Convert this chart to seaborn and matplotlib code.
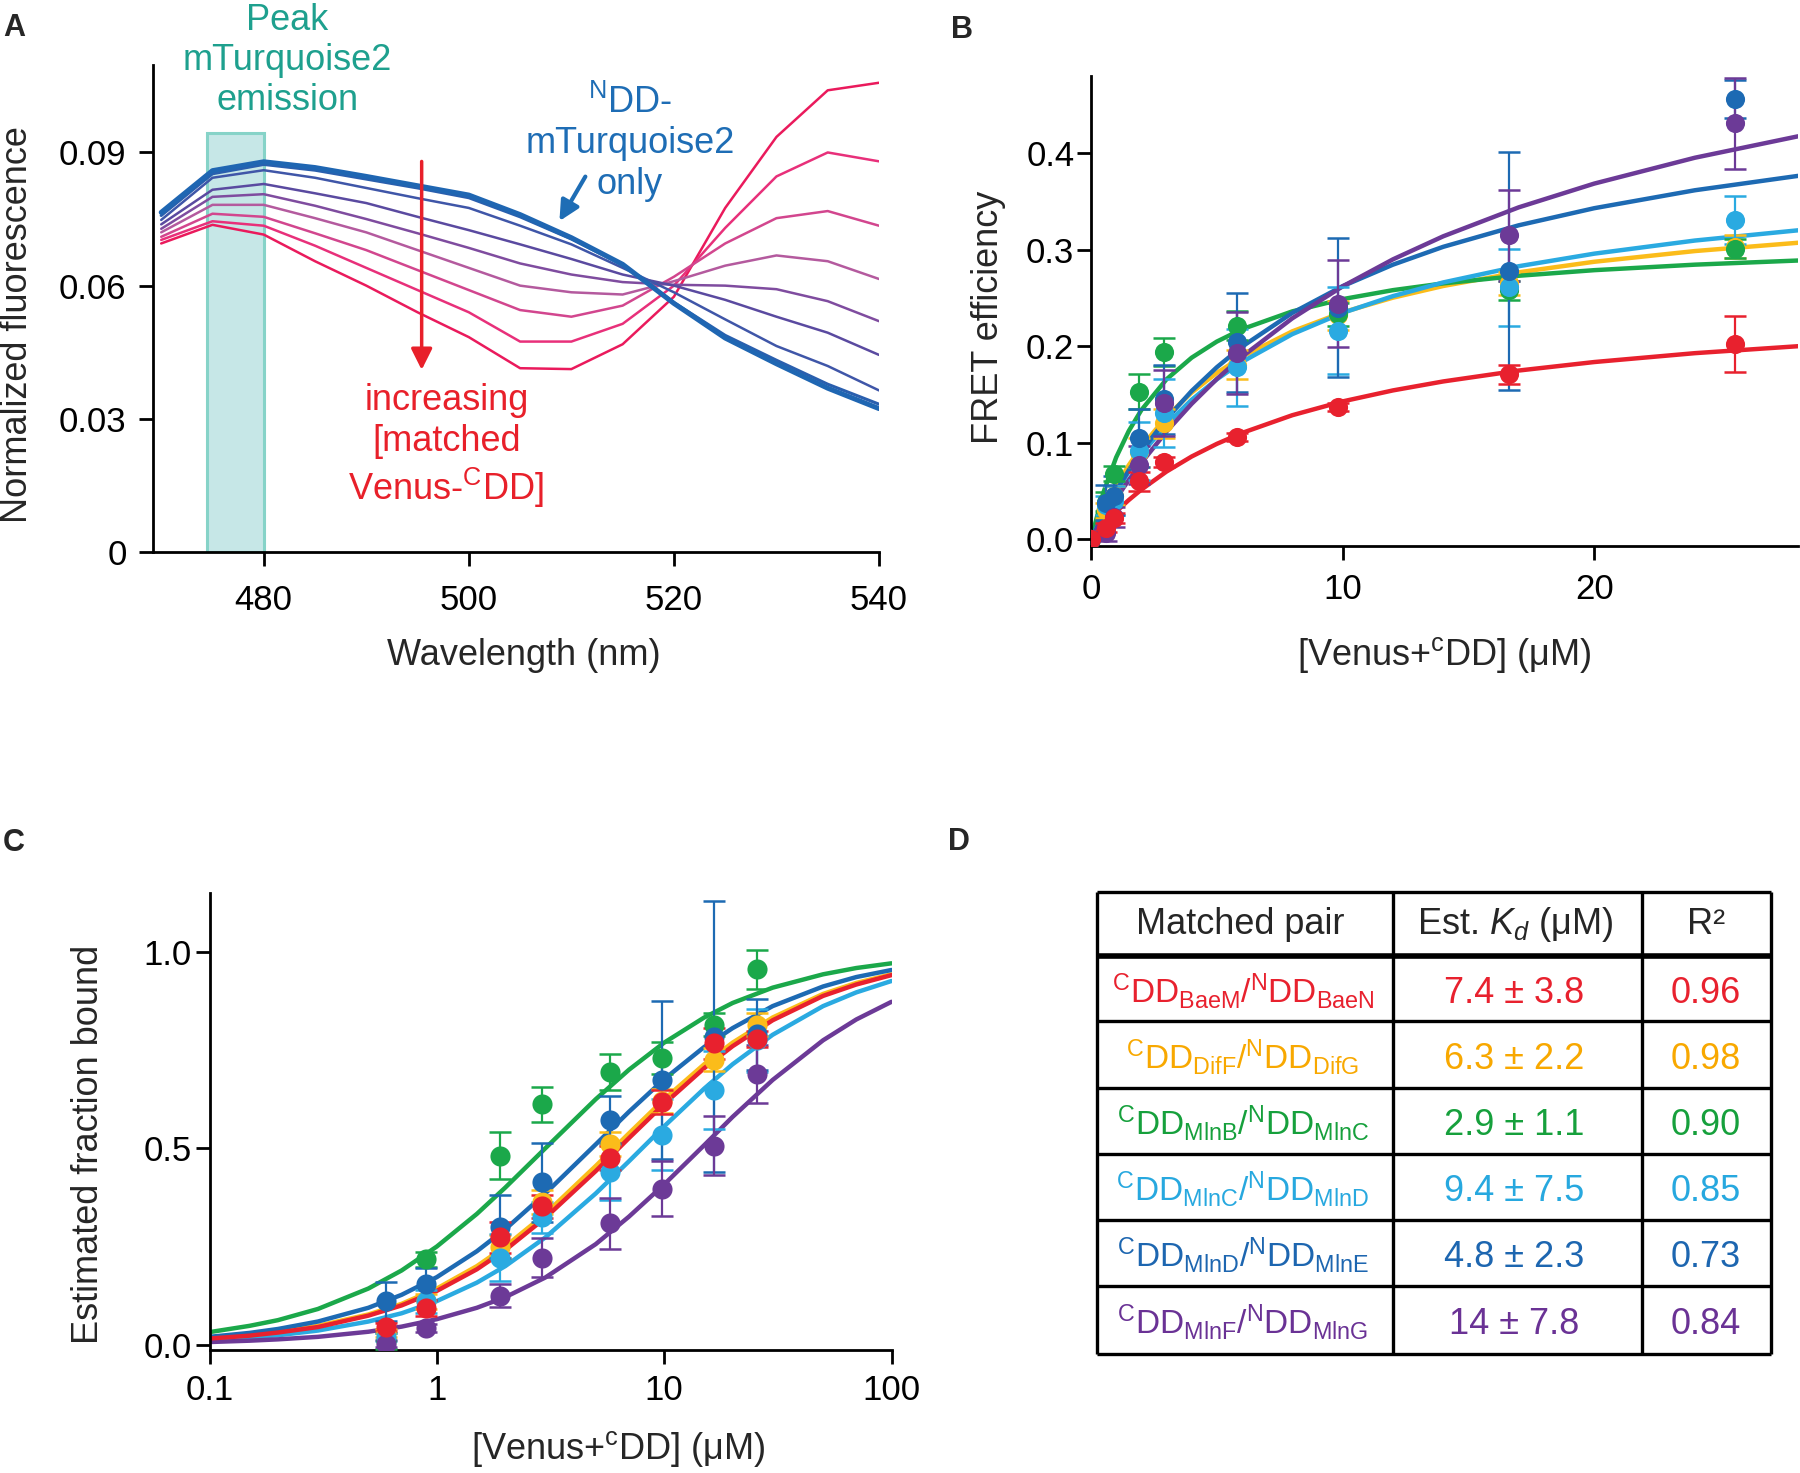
import matplotlib
matplotlib.use("Agg")
import matplotlib.pyplot as plt
from matplotlib.ticker import NullLocator
import seaborn as sns

# ---------------- Panel A: emission spectra ----------------
wavelength = [470, 475, 480, 485, 490, 495, 500, 505, 510, 515, 520, 525, 530, 535, 540]
spec_0 = [0.0765, 0.0859, 0.0879, 0.0866, 0.0846, 0.0825, 0.0804, 0.0760, 0.0708, 0.0648, 0.0560, 0.0482, 0.0424, 0.0369, 0.0323]
spec_1 = [0.0758, 0.0852, 0.0873, 0.0860, 0.0840, 0.0820, 0.0798, 0.0755, 0.0705, 0.0647, 0.0562, 0.0488, 0.0432, 0.0378, 0.0333]
spec_2 = [0.0748, 0.0843, 0.0860, 0.0843, 0.0820, 0.0797, 0.0775, 0.0735, 0.0693, 0.0640, 0.0585, 0.0524, 0.0464, 0.0419, 0.0364]
spec_3 = [0.0738, 0.0816, 0.0829, 0.0808, 0.0786, 0.0755, 0.0725, 0.0693, 0.0660, 0.0625, 0.0600, 0.0568, 0.0530, 0.0494, 0.0444]
spec_4 = [0.0728, 0.0800, 0.0806, 0.0780, 0.0750, 0.0718, 0.0685, 0.0650, 0.0625, 0.0608, 0.0602, 0.0600, 0.0592, 0.0565, 0.0520]
spec_5 = [0.0720, 0.0782, 0.0782, 0.0752, 0.0720, 0.0680, 0.0640, 0.0600, 0.0585, 0.0580, 0.0610, 0.0645, 0.0668, 0.0655, 0.0615]
spec_6 = [0.0710, 0.0762, 0.0755, 0.0718, 0.0680, 0.0635, 0.0590, 0.0545, 0.0530, 0.0555, 0.0620, 0.0695, 0.0752, 0.0768, 0.0735]
spec_7 = [0.0703, 0.0745, 0.0735, 0.0690, 0.0640, 0.0590, 0.0540, 0.0474, 0.0474, 0.0514, 0.0600, 0.0730, 0.0846, 0.0900, 0.0880]
spec_8 = [0.0695, 0.0737, 0.0715, 0.0655, 0.0600, 0.0540, 0.0484, 0.0414, 0.0412, 0.0468, 0.0575, 0.0775, 0.0935, 0.1040, 0.1057]
spectra = [spec_8, spec_7, spec_6, spec_5, spec_4, spec_3, spec_2, spec_1, spec_0]
spectra_colors = ["#ea1a5c", "#e8307a", "#d2468e", "#b45a9e", "#7f4c9f", "#5a4aa0", "#3f56a8", "#2a5fae", "#1f66b2"]
spectra_lw = [1.8, 1.8, 1.8, 1.8, 1.8, 1.8, 1.8, 2.2, 3.6]

# ---------------- Panels B / C / D ----------------
pair_colors = ["#e8212e", "#fbbc1a", "#1ba84a", "#2aaae1", "#1d6ab3", "#6c3a97"]
text_colors = ["#e8212e", "#f8a800", "#16a03c", "#27a8df", "#1d66b0", "#6a3295"]

conc = [0, 0.6, 0.9, 1.9, 2.9, 5.8, 9.8, 16.6, 25.6]

# FRET efficiency (B), order: BaeM, DifF, MlnB, MlnC, MlnD, MlnF
fret_red = [0, 0.012, 0.022, 0.060, 0.080, 0.106, 0.137, 0.171, 0.202]
fret_yellow = [0, 0.030, 0.045, 0.090, 0.120, 0.181, 0.232, 0.265, 0.303]
fret_green = [0, 0.039, 0.068, 0.153, 0.194, 0.221, 0.233, 0.258, 0.301]
fret_cyan = [0, 0.035, 0.040, 0.091, 0.131, 0.178, 0.216, 0.261, 0.331]
fret_blue = [0, 0.038, 0.045, 0.105, 0.145, 0.204, 0.240, 0.278, 0.456]
fret_purple = [0, 0.006, 0.023, 0.077, 0.141, 0.193, 0.244, 0.315, 0.431]
fret_red_err = [0, 0.005, 0.005, 0.010, 0.005, 0.004, 0.004, 0.010, 0.029]
fret_yellow_err = [0, 0.008, 0.010, 0.015, 0.015, 0.015, 0.015, 0.012, 0.012]
fret_green_err = [0, 0.010, 0.008, 0.018, 0.015, 0.015, 0.012, 0.010, 0.010]
fret_cyan_err = [0, 0.010, 0.015, 0.030, 0.035, 0.040, 0.045, 0.040, 0.025]
fret_blue_err = [0, 0.018, 0.020, 0.030, 0.036, 0.051, 0.072, 0.123, 0.020]
fret_purple_err = [0, 0.008, 0.010, 0.020, 0.034, 0.042, 0.045, 0.047, 0.047]

fit_x_b = [0, 0.5, 1, 1.5, 2, 3, 4, 5, 6, 8, 10, 12, 14, 17, 20, 24, 28.1]
fit_b_red = [0, 0.0151, 0.0286, 0.0406, 0.0514, 0.0701, 0.0857, 0.0988, 0.1101, 0.1285, 0.1428, 0.1542, 0.1635, 0.1748, 0.1836, 0.1928, 0.2000]
fit_b_yellow = [0, 0.0296, 0.0549, 0.0767, 0.0956, 0.1270, 0.1520, 0.1723, 0.1891, 0.2154, 0.2351, 0.2503, 0.2624, 0.2766, 0.2875, 0.2986, 0.3072]
fit_b_green = [0, 0.0489, 0.0848, 0.1121, 0.1338, 0.1657, 0.1881, 0.2048, 0.2176, 0.2361, 0.2488, 0.2581, 0.2651, 0.2730, 0.2788, 0.2845, 0.2888]
fit_b_cyan = [0, 0.0264, 0.0495, 0.0699, 0.0881, 0.1191, 0.1445, 0.1657, 0.1837, 0.2125, 0.2345, 0.2519, 0.2661, 0.2829, 0.2959, 0.3095, 0.3201]
fit_b_blue = [0, 0.0263, 0.0500, 0.0714, 0.0908, 0.1248, 0.1536, 0.1782, 0.1995, 0.2345, 0.2622, 0.2845, 0.3030, 0.3253, 0.3430, 0.3616, 0.3765]
fit_b_purple = [0, 0.0219, 0.0422, 0.0613, 0.0791, 0.1116, 0.1403, 0.1660, 0.1891, 0.2289, 0.2620, 0.2900, 0.3139, 0.3439, 0.3685, 0.3953, 0.4175]

# Estimated fraction bound (C)
conc_c = [0.6, 0.9, 1.9, 2.9, 5.8, 9.8, 16.6, 25.6]
bound_red = [0.045, 0.093, 0.273, 0.352, 0.475, 0.618, 0.767, 0.779]
bound_yellow = [0.030, 0.110, 0.250, 0.363, 0.511, 0.620, 0.726, 0.815]
bound_green = [0.010, 0.217, 0.481, 0.612, 0.694, 0.730, 0.815, 0.956]
bound_cyan = [0.020, 0.110, 0.222, 0.324, 0.439, 0.535, 0.649, 0.775]
bound_blue = [0.110, 0.155, 0.300, 0.413, 0.573, 0.674, 0.784, 0.790]
bound_purple = [0.003, 0.043, 0.125, 0.222, 0.309, 0.397, 0.506, 0.689]
bound_red_err = [0.01, 0.02, 0.04, 0.03, 0.03, 0.03, 0.04, 0.02]
bound_yellow_err = [0.01, 0.02, 0.03, 0.03, 0.03, 0.03, 0.03, 0.03]
bound_green_err = [0.02, 0.02, 0.06, 0.045, 0.045, 0.04, 0.03, 0.05]
bound_cyan_err = [0.01, 0.03, 0.06, 0.04, 0.07, 0.09, 0.10, 0.08]
bound_blue_err = [0.05, 0.04, 0.08, 0.10, 0.06, 0.20, 0.345, 0.09]
bound_purple_err = [0.01, 0.01, 0.03, 0.05, 0.065, 0.07, 0.075, 0.073]

fit_x_c = [0.1, 0.15, 0.2, 0.3, 0.5, 0.7, 1, 1.5, 2, 3, 5, 7, 10, 15, 20, 30, 50, 70, 100]
fit_c_red = [0.0156, 0.023, 0.031, 0.045, 0.074, 0.100, 0.137, 0.192, 0.241, 0.323, 0.442, 0.526, 0.613, 0.704, 0.760, 0.826, 0.888, 0.917, 0.941]
fit_c_yellow = [0.016, 0.024, 0.032, 0.048, 0.077, 0.104, 0.143, 0.200, 0.250, 0.333, 0.455, 0.538, 0.625, 0.714, 0.769, 0.833, 0.893, 0.921, 0.943]
fit_c_green = [0.032, 0.048, 0.0625, 0.091, 0.143, 0.189, 0.250, 0.333, 0.400, 0.500, 0.625, 0.700, 0.769, 0.833, 0.870, 0.909, 0.943, 0.959, 0.971]
fit_c_cyan = [0.012, 0.018, 0.024, 0.036, 0.059, 0.080, 0.111, 0.158, 0.200, 0.273, 0.385, 0.467, 0.556, 0.652, 0.714, 0.789, 0.862, 0.897, 0.926]
fit_c_blue = [0.020, 0.030, 0.040, 0.059, 0.094, 0.127, 0.172, 0.238, 0.294, 0.385, 0.510, 0.593, 0.676, 0.758, 0.806, 0.862, 0.912, 0.936, 0.954]
fit_c_purple = [0.0068, 0.0102, 0.0136, 0.020, 0.033, 0.046, 0.065, 0.094, 0.121, 0.171, 0.256, 0.326, 0.408, 0.508, 0.580, 0.674, 0.775, 0.828, 0.873]

# Table (D)
pair_c = ["BaeM", "DifF", "MlnB", "MlnC", "MlnD", "MlnF"]
pair_n = ["BaeN", "DifG", "MlnC", "MlnD", "MlnE", "MlnG"]
kd_text = ["7.4 ± 3.8", "6.3 ± 2.2", "2.9 ± 1.1", "9.4 ± 7.5", "4.8 ± 2.3", "14 ± 7.8"]
r2_text = ["0.96", "0.98", "0.90", "0.85", "0.73", "0.84"]

fret = [fret_red, fret_yellow, fret_green, fret_cyan, fret_blue, fret_purple]
fret_err = [fret_red_err, fret_yellow_err, fret_green_err, fret_cyan_err, fret_blue_err, fret_purple_err]
fit_b = [fit_b_red, fit_b_yellow, fit_b_green, fit_b_cyan, fit_b_blue, fit_b_purple]
bound = [bound_red, bound_yellow, bound_green, bound_cyan, bound_blue, bound_purple]
bound_err = [bound_red_err, bound_yellow_err, bound_green_err, bound_cyan_err, bound_blue_err, bound_purple_err]
fit_c = [fit_c_red, fit_c_yellow, fit_c_green, fit_c_cyan, fit_c_blue, fit_c_purple]
draw_order = [1, 2, 3, 4, 5, 0]

sns.set_theme(style="ticks")
plt.rcParams["font.family"] = ["Liberation Sans", "DejaVu Sans"]
plt.rcParams["mathtext.fontset"] = "custom"
plt.rcParams["mathtext.rm"] = "Liberation Sans"
plt.rcParams["mathtext.it"] = "Liberation Sans:italic"
plt.rcParams["mathtext.bf"] = "Liberation Sans:bold"
plt.rcParams["axes.edgecolor"] = "black"
plt.rcParams["axes.linewidth"] = 2.0
plt.rcParams["xtick.color"] = "black"
plt.rcParams["ytick.color"] = "black"

LABEL = 26
TICK = 25

fig = plt.figure(figsize=(18, 14.73), dpi=100)
W, H = 1800, 1473


def add_ax(left, top, right, bottom):
    return fig.add_axes([left / W, 1 - bottom / H, (right - left) / W, (bottom - top) / H])


def style_ax(ax, xpad, ypad):
    sns.despine(ax=ax)
    ax.tick_params(axis="both", length=10, width=2, labelsize=TICK, direction="out")
    ax.tick_params(axis="x", pad=xpad)
    ax.tick_params(axis="y", pad=ypad)


# ---- A ----
axA = add_ax(153, 65, 879, 552)
axA.axvspan(474.5, 480, ymin=0, ymax=0.0944 / 0.1097, facecolor="#c6e7e7",
            edgecolor="#86d3c8", lw=2.2, zorder=0)
for vals, col, lw in zip(spectra, spectra_colors, spectra_lw):
    sns.lineplot(x=wavelength, y=vals, color=col, lw=lw, ax=axA)
axA.set_xlim(469.2, 540)
axA.set_ylim(0, 0.1097)
axA.set_xticks([480, 500, 520, 540])
axA.set_yticks([0, 0.03, 0.06, 0.09])
axA.set_yticklabels(["0", "0.03", "0.06", "0.09"])
style_ax(axA, 13, 9)
axA.set_xlabel("Wavelength (nm)", fontsize=LABEL)
axA.set_ylabel("Normalized fluorescence", fontsize=LABEL)
axA.xaxis.set_label_coords(0.511, -0.1765)
axA.yaxis.set_label_coords(-0.163, 0.467)

axA.text(482.3, 0.1107, "Peak\nmTurquoise2\nemission", color="#1ea08e",
         fontsize=LABEL, ha="center", va="center", clip_on=False)
axA.text(515.7, 0.0921, "${}^{\\mathrm{N}}$DD-\nmTurquoise2\nonly", color="#1e6db5",
         fontsize=LABEL, ha="center", va="center")
axA.text(497.8, 0.0238, "increasing\n[matched\nVenus-${}^{\\mathrm{C}}$DD]", color="#e8202a",
         fontsize=LABEL, ha="center", va="center")
axA.annotate("", xy=(495.4, 0.0404), xytext=(495.4, 0.0886),
             arrowprops=dict(arrowstyle="-|>", color="#e8202a", lw=2.5, mutation_scale=32))
axA.annotate("", xy=(508.7, 0.0740), xytext=(511.5, 0.0851),
             arrowprops=dict(arrowstyle="-|>", color="#1e6db5", lw=3, mutation_scale=30))

# ---- B ----
axB = add_ax(1091, 76, 1798, 545.5)
for i in draw_order:
    sns.lineplot(x=fit_x_b, y=fit_b[i], color=pair_colors[i], lw=3.2, ax=axB, zorder=2)
for i in draw_order:
    axB.errorbar(conc, fret[i], yerr=fret_err[i], fmt="none", ecolor=pair_colors[i],
                 elinewidth=1.6, capsize=8, capthick=1.8, zorder=3)
    sns.scatterplot(x=conc, y=fret[i], color=pair_colors[i], s=190, linewidth=0,
                    ax=axB, zorder=4)
axB.set_xlim(0, 28.1)
axB.set_ylim(-0.0065, 0.48)
axB.set_xticks([0, 10, 20])
axB.set_yticks([0, 0.1, 0.2, 0.3, 0.4])
axB.set_yticklabels(["0.0", "0.1", "0.2", "0.3", "0.4"])
style_ax(axB, 10, 2)
axB.set_xlabel("[Venus+${}^{\\mathrm{c}}$DD] (μM)", fontsize=LABEL)
axB.set_ylabel("FRET efficiency", fontsize=LABEL)
axB.xaxis.set_label_coords(0.5, -0.19)
axB.yaxis.set_label_coords(-0.12, 0.487)

# ---- C ----
axC = add_ax(209.5, 893, 891.5, 1350)
axC.set_xscale("log")
for i in draw_order:
    sns.lineplot(x=fit_x_c, y=fit_c[i], color=pair_colors[i], lw=3.2, ax=axC, zorder=2)
for i in draw_order:
    axC.errorbar(conc_c, bound[i], yerr=bound_err[i], fmt="none", ecolor=pair_colors[i],
                 elinewidth=1.6, capsize=8, capthick=1.8, zorder=3)
    sns.scatterplot(x=conc_c, y=bound[i], color=pair_colors[i], s=210, linewidth=0,
                    ax=axC, zorder=4)
axC.set_xlim(0.1, 100)
axC.set_ylim(-0.0135, 1.15)
axC.set_xticks([0.1, 1, 10, 100])
axC.set_xticklabels(["0.1", "1", "10", "100"])
axC.xaxis.set_minor_locator(NullLocator())
axC.set_yticks([0, 0.5, 1.0])
axC.set_yticklabels(["0.0", "0.5", "1.0"])
style_ax(axC, 7, 3)
axC.set_xlabel("[Venus+${}^{\\mathrm{c}}$DD] (μM)", fontsize=LABEL)
axC.set_ylabel("Estimated fraction bound", fontsize=LABEL)
axC.xaxis.set_label_coords(0.6, -0.172)
axC.yaxis.set_label_coords(-0.152, 0.449)

# ---- D: table ----
TL, TR, TT, TB = 1097, 1771, 892, 1354
axD = add_ax(TL, TT, TR, TB)
axD.set_xlim(TL, TR)
axD.set_ylim(TB, TT)
axD.axis("off")
col_edges = [TL, 1393, 1641.5, TR]
row_edges = [TT, 956, 1021.5, 1088, 1154, 1220, 1286, TB]
axD.vlines(col_edges, TT, TB, color="black", lw=2.4, clip_on=False)
axD.hlines(row_edges, TL, TR, color="black", lw=2.4, clip_on=False)
axD.hlines([956], TL, TR, color="black", lw=4, clip_on=False)
axD.text(1240, 925, "Matched pair", fontsize=LABEL, ha="center", va="center")
axD.text(1515, 925, "Est. $K_d$ (μM)", fontsize=LABEL, ha="center", va="center")
axD.text(1706, 925, "R²", fontsize=LABEL, ha="center", va="center")
for r in range(6):
    yc = (row_edges[r + 1] + row_edges[r + 2]) / 2
    label = ("${}^{\\mathrm{C}}\\mathrm{DD}_{\\mathrm{%s}}/{}^{\\mathrm{N}}\\mathrm{DD}_{\\mathrm{%s}}$"
             % (pair_c[r], pair_n[r]))
    axD.text(1243, yc + 2, label, fontsize=24, color=text_colors[r], ha="center", va="center")
    axD.text(1514, yc + 5, kd_text[r], fontsize=LABEL, color=text_colors[r], ha="center", va="center")
    axD.text(1706, yc + 5, r2_text[r], fontsize=LABEL, color=text_colors[r], ha="center", va="center")

# panel letters
for letter, x, y in [("A", 3, 13), ("B", 951, 15), ("C", 3, 828), ("D", 948, 827)]:
    fig.text(x / W, 1 - y / H, letter, fontsize=22, fontweight="bold", ha="left", va="top")

fig.savefig("out.png", dpi=100)
